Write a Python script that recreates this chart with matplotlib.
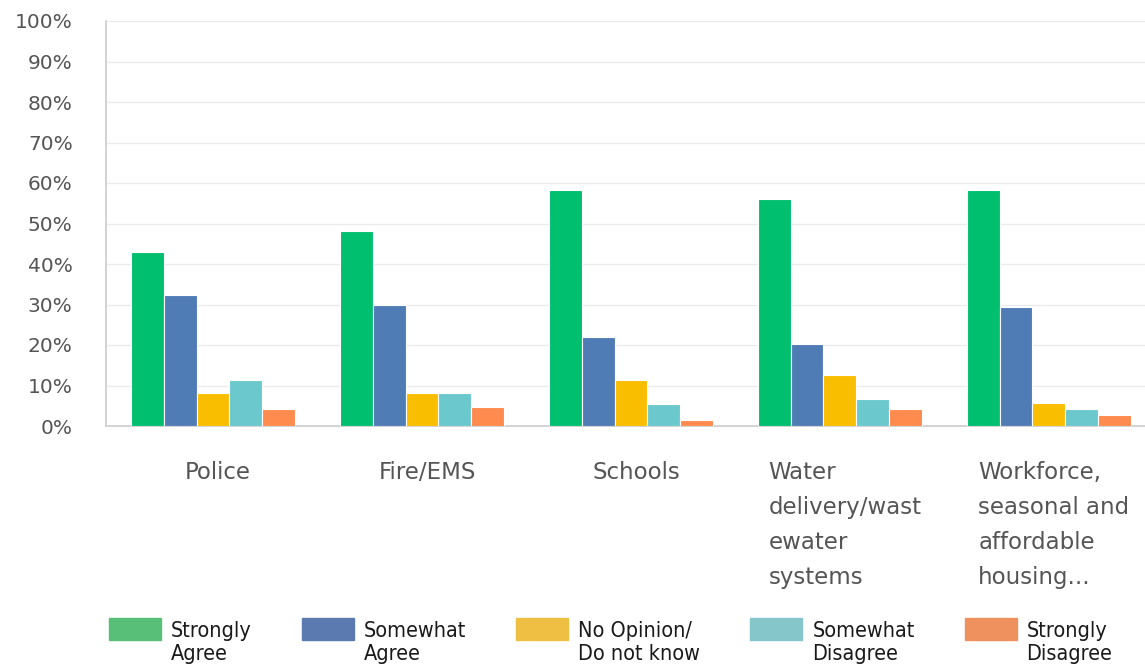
import numpy as np
import matplotlib
matplotlib.use("Agg")
import matplotlib.pyplot as plt
import matplotlib.transforms as mtransforms
from matplotlib.patches import Rectangle
from matplotlib.legend_handler import HandlerPatch

categories = ["Police", "Fire/EMS", "Schools",
              "Water\ndelivery/wast\newater\nsystems",
              "Workforce,\nseasonal and\naffordable\nhousing..."]
answers = ["Strongly\nAgree", "Somewhat\nAgree", "No Opinion/\nDo not know",
           "Somewhat\nDisagree", "Strongly\nDisagree"]

strongly_agree = [43.0, 48.1, 58.3, 56.0, 58.3]
somewhat_agree = [32.3, 29.9, 22.0, 20.2, 29.4]
no_opinion = [8.1, 8.1, 11.4, 12.6, 5.7]
somewhat_disagree = [11.4, 8.1, 5.4, 6.7, 4.2]
strongly_disagree = [4.2, 4.7, 1.5, 4.2, 2.7]
series = [strongly_agree, somewhat_agree, no_opinion, somewhat_disagree, strongly_disagree]

bar_colors = ["#00bf6f", "#507cb6", "#f9be00", "#6bc8cd", "#ff8b4f"]
key_colors = ["#57bf77", "#5b7bb0", "#efbf43", "#84c6c9", "#ef915e"]
text_color = "#555555"

fig = plt.figure(figsize=(11.45, 6.67), dpi=100)
ax = fig.add_axes([106 / 1145, 1 - 426 / 667, 1 - 106 / 1145, (426 - 21) / 667])

x = np.arange(len(categories))
w = 0.157
for k, vals in enumerate(series):
    ax.bar(x + (k - 2) * w, vals, width=w, color=bar_colors[k],
           edgecolor="white", linewidth=0.8, zorder=3)

ax.set_ylim(0, 100)
ax.set_xlim(-0.512, 4.46)
ax.set_yticks(np.arange(0, 101, 10))
ax.set_yticklabels([f"{v}%" for v in range(0, 101, 10)])
ax.set_xticks(x)
ax.set_xticklabels(categories, multialignment="left", linespacing=1.68)
ax.tick_params(axis="y", length=0, pad=24, labelsize=14.5, labelcolor=text_color)
ax.tick_params(axis="x", length=0, pad=25, labelsize=16.5, labelcolor=text_color)
nudge = mtransforms.ScaledTranslation(5 / 100, 0, fig.dpi_scale_trans)
for t in ax.get_xticklabels():
    t.set_verticalalignment("top")
    t.set_transform(t.get_transform() + nudge)

ax.grid(axis="y", color="#ebebeb", linewidth=1, zorder=0)
for s in ["top", "right"]:
    ax.spines[s].set_visible(False)
for s in ["left", "bottom"]:
    ax.spines[s].set_color("#cccccc")
    ax.spines[s].set_linewidth(1.2)


# legend swatch sits next to the first line of its two-line label
def top_swatch(legend, orig_handle, xdescent, ydescent, width, height, fontsize):
    return Rectangle((-xdescent, -ydescent + fontsize * 0.66), width, height)


fs = 15.5
px = fs * 100 / 72
handles = [Rectangle((0, 0), 1, 1, color=c) for c in key_colors]
fig.legend(handles, answers, loc="upper left", ncol=5, frameon=False,
           bbox_to_anchor=(109 / 1145, 1 - 621 / 667), borderaxespad=0, borderpad=0,
           prop={"family": "DejaVu Sans", "size": fs, "stretch": "condensed"},
           handlelength=52 / px, handleheight=25 / px, handletextpad=10 / px,
           columnspacing=50 / px, labelspacing=0, labelcolor="#1a1a1a",
           handler_map={Rectangle: HandlerPatch(patch_func=top_swatch)})

fig.savefig("out.png", dpi=100)
